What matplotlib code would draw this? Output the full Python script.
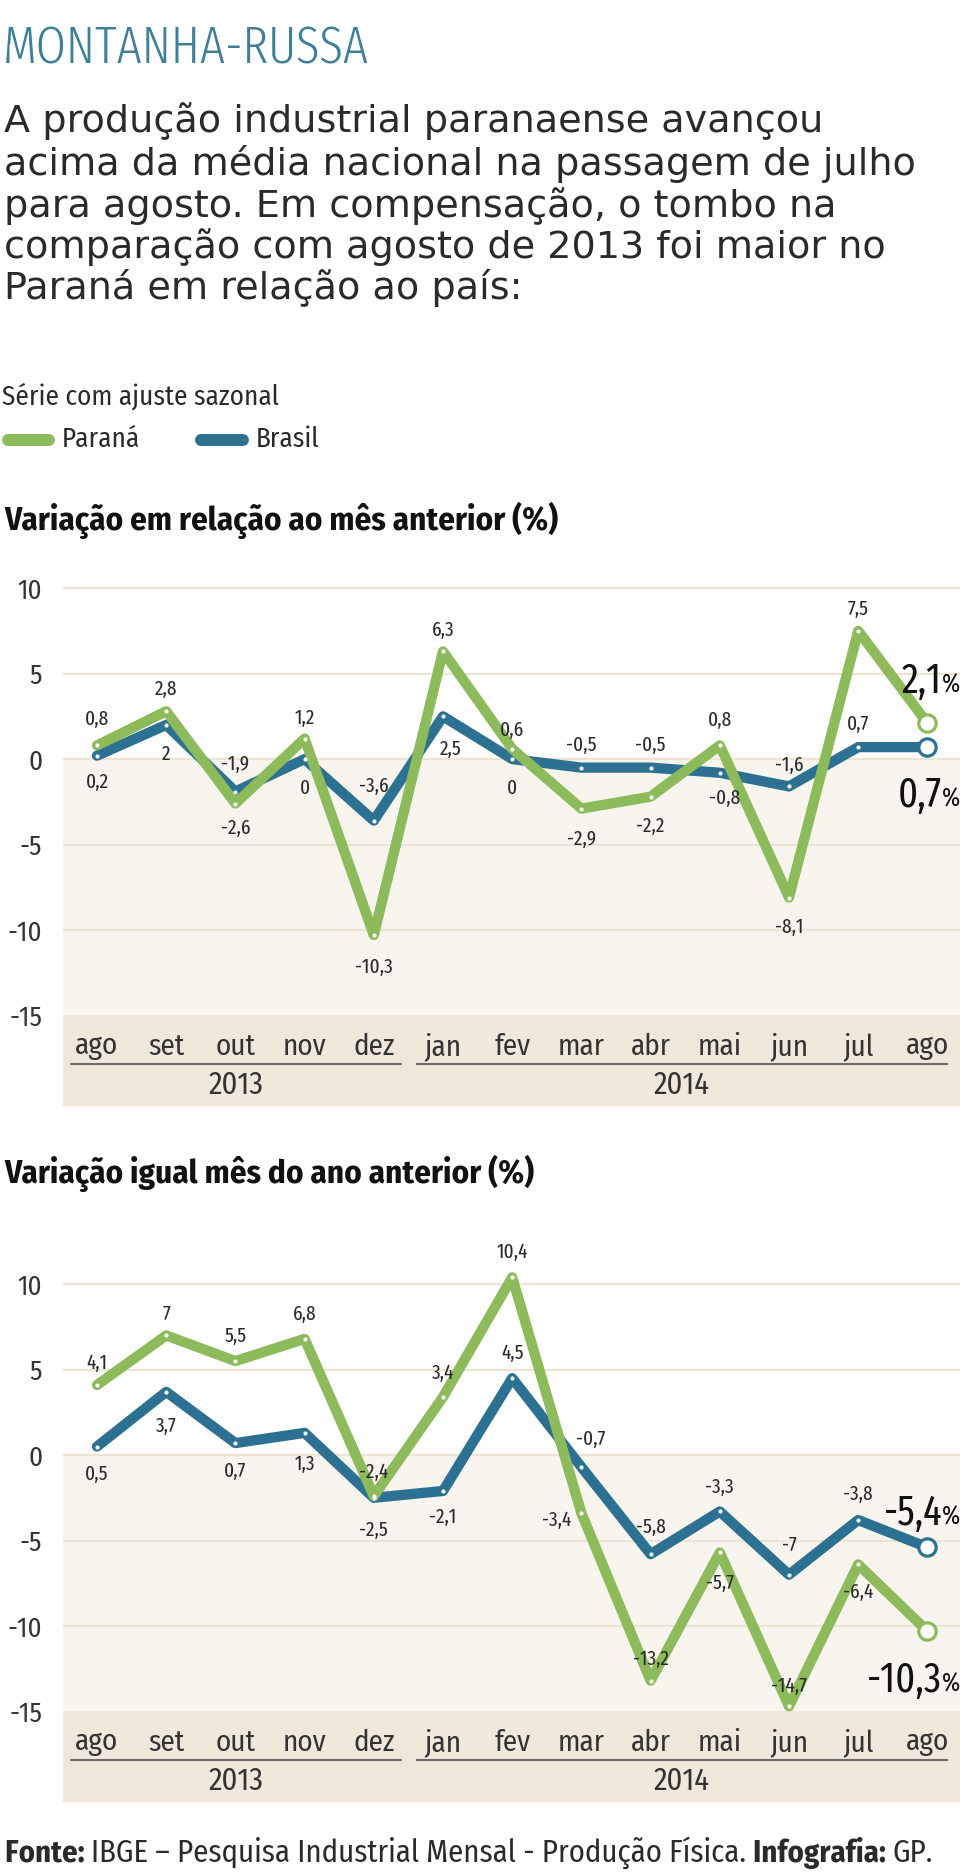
import numpy as np
import matplotlib
matplotlib.use('Agg')
import matplotlib.pyplot as plt
from matplotlib.lines import Line2D

# ---------------- data ----------------
meses = ['ago', 'set', 'out', 'nov', 'dez', 'jan', 'fev', 'mar', 'abr', 'mai', 'jun', 'jul', 'ago']
anos = ['2013', '2014']

# variacao em relacao ao mes anterior (%)
parana_mes = [0.8, 2.8, -2.6, 1.2, -10.3, 6.3, 0.6, -2.9, -2.2, 0.8, -8.1, 7.5, 2.1]
brasil_mes = [0.2, 2.0, -1.9, 0.0, -3.6, 2.5, 0.0, -0.5, -0.5, -0.8, -1.6, 0.7, 0.7]

# variacao igual mes do ano anterior (%)
parana_ano = [4.1, 7.0, 5.5, 6.8, -2.4, 3.4, 10.4, -3.4, -13.2, -5.7, -14.7, -6.4, -10.3]
brasil_ano = [0.5, 3.7, 0.7, 1.3, -2.5, -2.1, 4.5, -0.7, -5.8, -3.3, -7.0, -3.8, -5.4]

yticks = [10, 5, 0, -5, -10, -15]

# label offsets (data units), style only
dy_p_mes = [1.5, 1.3, -1.47, 1.17, -1.88, 1.24, 1.08, -1.79, -1.75, 1.45, -1.72, 1.26]
dy_b_mes = [-1.56, -1.7, 1.62, -1.7, 2.0, -1.9, -1.7, 1.33, 1.33, -1.48, 1.21, 1.32]
dx_b_mes = [0, 0, 0, 0, 0, 0.11, 0, 0, 0, 0.07, 0, 0]
dy_p_ano = [1.26, 1.3, 1.48, 1.44, 1.42, 1.4, 1.47, -0.4, 1.24, -1.79, 1.2, -1.64]
dx_p_ano = [0, 0, 0, 0, 0, 0, 0, -0.36, 0, 0, 0, 0]
dy_b_ano = [-1.62, -2.0, -1.62, -1.86, -1.9, -1.56, 1.48, 1.6, 1.58, 1.4, 1.75, 1.48]
dx_b_ano = [0, 0, 0, 0, 0, 0, 0, 0.14, 0, 0, 0, 0]

VERDE = '#8dbb5b'
AZUL = '#2c7191'
CREME = '#f8f5ee'
FAIXA = '#f0e9db'
GRADE = '#ede5d4'
TXT = '#2a2a2a'
COND = ['Fira Sans Condensed', 'DejaVu Sans']
XCOND = ['Fira Sans Extra Condensed', 'Fira Sans Condensed', 'DejaVu Sans']

W, H = 960, 1872
fig = plt.figure(figsize=(W / 100, H / 100), dpi=100)
fig.patch.set_facecolor('white')
renderer = fig.canvas.get_renderer()


def fy(y):
    return 1 - y / H


def fx(x):
    return x / W


def fmt(v):
    s = ('%.1f' % v).replace('.', ',')
    if s.endswith(',0'):
        s = s[:-2]
    return s


def ajusta(t, largura):
    # scale font size so the text spans the given width in pixels
    bb = t.get_window_extent(renderer=renderer)
    t.set_fontsize(t.get_fontsize() * largura / bb.width)
    return t.get_fontsize()


# ---------------- header ----------------
t = fig.text(fx(3), fy(63), 'MONTANHA-RUSSA', family=XCOND, fontweight=300, fontsize=40,
             color='#3f7f99', va='baseline', ha='left')
ajusta(t, 366)

texto = ['A produção industrial paranaense avançou',
         'acima da média nacional na passagem de julho',
         'para agosto. Em compensação, o tombo na',
         'comparação com agosto de 2013 foi maior no',
         'Paraná em relação ao país:']
base = [132, 175, 217, 258, 299]
linhas = []
for linha, b in zip(texto, base):
    linhas.append(fig.text(fx(4), fy(b), linha, family='DejaVu Sans', fontsize=24.5,
                           color=TXT, va='baseline', ha='left'))
tam = ajusta(linhas[1], 910)
for l in linhas:
    l.set_fontsize(tam)

t = fig.text(fx(2), fy(405), 'Série com ajuste sazonal', family=COND, fontsize=18.5,
             color=TXT, va='baseline')
tam = ajusta(t, 276)
fig.add_artist(Line2D([fx(8), fx(49)], [fy(440), fy(440)], color=VERDE, lw=8.6,
                      solid_capstyle='round', transform=fig.transFigure))
fig.text(fx(62), fy(447), 'Paraná', family=COND, fontsize=tam, color=TXT, va='baseline')
fig.add_artist(Line2D([fx(201), fx(243)], [fy(440), fy(440)], color=AZUL, lw=8.6,
                      solid_capstyle='round', transform=fig.transFigure))
fig.text(fx(256), fy(447), 'Brasil', family=COND, fontsize=tam, color=TXT, va='baseline')

t1 = fig.text(fx(4), fy(530), 'Variação em relação ao mês anterior (%)', family=COND,
              fontsize=20.5, fontweight='bold', color='#111111', va='baseline')
tam = ajusta(t1, 553)
fig.text(fx(4), fy(1183), 'Variação igual mês do ano anterior (%)', family=COND,
         fontsize=tam, fontweight='bold', color='#111111', va='baseline')

# ---------------- charts ----------------
x = np.arange(len(meses))
ylo, yhi = -20.3, 12
xlo = (63 - 97) / 69.2
xhi = (960 - 97) / 69.2


def grafico(ax, parana, brasil, dyp, dxp, dyb, dxb, big_p, big_b):
    ax.set_xlim(xlo, xhi)
    ax.set_ylim(ylo, yhi)
    ax.set_facecolor('white')
    for s in ax.spines.values():
        s.set_visible(False)
    ax.axhspan(-15, 0, color=CREME, zorder=0, lw=0)
    ax.axhspan(ylo, -15, color=FAIXA, zorder=0, lw=0)
    for t in [10, 5, 0, -5, -10]:
        ax.axhline(t, color=GRADE, lw=1.6, zorder=1)
    ax.set_xticks([])
    ax.set_yticks(yticks)
    ax.set_yticklabels([str(t) for t in yticks], family=COND,
                       fontsize=19.5, color='#333333')
    ax.tick_params(axis='y', length=0, pad=15)

    for serie, cor in [(brasil, AZUL), (parana, VERDE)]:
        ax.plot(x, serie, color=cor, lw=7.4, solid_joinstyle='round',
                solid_capstyle='round', zorder=3)
        ax.plot(x[:-1], serie[:-1], 'o', color='white', ms=3, mew=0, zorder=4)
        ax.plot(x[-1], serie[-1], 'o', mfc='white', mec=cor, ms=12.5, mew=2.3, zorder=5)

    for i in range(len(x) - 1):
        ax.text(x[i] + dxp[i], parana[i] + dyp[i], fmt(parana[i]), family=XCOND,
                fontsize=15, color=TXT, ha='center', va='center', zorder=6)
        ax.text(x[i] + dxb[i], brasil[i] + dyb[i], fmt(brasil[i]), family=XCOND,
                fontsize=15, color=TXT, ha='center', va='center', zorder=6)

    # big end labels
    xe = (942 - 97) / 69.2
    for serie, dy in [(parana, big_p), (brasil, big_b)]:
        ax.text(xe, serie[-1] + dy, fmt(serie[-1]), family=XCOND, fontsize=30,
                color='#111111', ha='right', va='baseline', zorder=6, clip_on=False)
        ax.text(xe, serie[-1] + dy, '%', family=XCOND, fontsize=19,
                color='#111111', ha='left', va='baseline', zorder=6, clip_on=False)

    # month labels and years
    for i, m in enumerate(meses):
        ax.text(x[i], -16.8, m, family=COND, fontsize=21, color='#333333',
                ha='center', va='center', zorder=6)
    ax.plot([-0.38, 4.4], [-17.85, -17.85], color='#6d6d6d', lw=1.5, zorder=6)
    ax.plot([4.62, 12.29], [-17.85, -17.85], color='#6d6d6d', lw=1.5, zorder=6)
    ax.text(2.01, -19.1, anos[0], family=COND, fontsize=22,
            color='#333333', ha='center', va='center', zorder=6)
    ax.text(8.45, -19.1, anos[1], family=COND, fontsize=22,
            color='#333333', ha='center', va='center', zorder=6)


# axes: left 63px, right 960px, value 12 -> -20.3 over 552px
ax1 = fig.add_axes([63 / W, 1 - 1106 / H, 897 / W, 552 / H])
grafico(ax1, parana_mes, brasil_mes, dy_p_mes, [0] * 12, dy_b_mes, dx_b_mes, 1.78, -3.49)
ax2 = fig.add_axes([63 / W, 1 - 1802 / H, 897 / W, 552 / H])
grafico(ax2, parana_ano, brasil_ano, dy_p_ano, dx_p_ano, dy_b_ano, dx_b_ano, -3.56, 1.31)

# ---------------- source line ----------------
partes = [('Fonte: ', 'bold'), ('IBGE – Pesquisa Industrial Mensal - Produção Física. ', 'normal'),
          ('Infografia: ', 'bold'), ('GP.', 'normal')]
textos = []
xpos = fx(5)
for txt, peso in partes:
    t = fig.text(xpos, fy(1862), txt, family=COND, fontsize=18,
                 fontweight=peso, color=TXT, va='baseline', ha='left')
    textos.append(t)
    xpos = t.get_window_extent(renderer=renderer).x1 / W
# rescale whole line to the reference width
total = textos[-1].get_window_extent(renderer=renderer).x1 - 5
fator = 928 / total
xpos = fx(5)
for t in textos:
    t.set_fontsize(t.get_fontsize() * fator)
    t.set_x(xpos)
    xpos = t.get_window_extent(renderer=renderer).x1 / W

fig.savefig('out.png', dpi=100, facecolor='white')
